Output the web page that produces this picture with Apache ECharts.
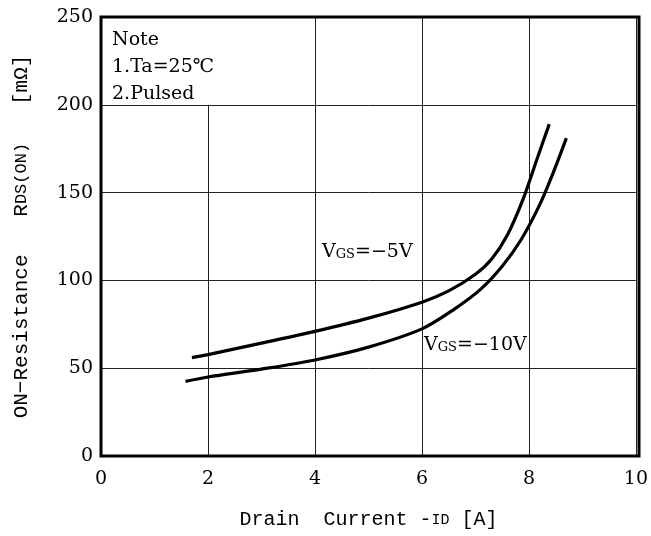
<!DOCTYPE html>
<html>
<head>
<meta charset="utf-8">
<script src="https://cdn.jsdelivr.net/npm/echarts@6/dist/echarts.min.js"></script>
<style>
  html, body { margin: 0; padding: 0; background: #fff; }
  #rdsChart { width: 651px; height: 536px; }
</style>
</head>
<body>
<div id="rdsChart"></div>
<script>
// -ID [A] vs RDS(ON) [mOhm]
var vgs5 = [[1.7, 56], [2, 57.7], [3, 64.3], [4, 71], [5, 78.5], [6, 87.6], [6.5, 94], [7, 103.5], [7.3, 112], [7.6, 126], [7.9, 147], [8.15, 169], [8.38, 189]];
var vgs10 = [[1.58, 42.5], [2, 45], [3, 49.5], [4, 54.7], [5, 62], [6, 72.4], [6.6, 83.5], [7.1, 95], [7.5, 108], [7.85, 123], [8.2, 143], [8.45, 161], [8.7, 181]];
var noteLines = ['Note', '1.Ta=25℃', '2.Pulsed'];

var font = 'DejaVu Serif';
var mono = 'Liberation Mono';

var myChart = echarts.init(document.getElementById('rdsChart'));
const option = {
    animation: false,
    grid: {
        left: 101, right: 12, top: 17, bottom: 80,
        show: false
    },
    xAxis: {
        type: 'value', min: 0, max: 10, interval: 2,
        name: 'Drain  Current -{s|ID} [A]',
        nameLocation: 'middle', nameGap: 54,
        nameTextStyle: {
            fontFamily: mono, fontSize: 20, color: '#000',
            rich: { s: { fontFamily: mono, fontSize: 15, color: '#000' } }
        },
        axisLine: { show: false },
        axisTick: { show: false },
        axisLabel: { fontFamily: font, fontSize: 19, color: '#000', margin: 14 },
        splitLine: { lineStyle: { color: '#222', width: 1 } }
    },
    yAxis: {
        type: 'value', min: 0, max: 250, interval: 50,
        name: 'ON−Resistance   R{s|DS(ON)}   [mΩ]',
        nameLocation: 'middle', nameGap: 69,
        nameTextStyle: {
            fontFamily: mono, fontSize: 21, color: '#000',
            rich: { s: { fontFamily: mono, fontSize: 17, color: '#000' } }
        },
        axisLine: { show: false },
        axisTick: { show: false },
        axisLabel: { fontFamily: font, fontSize: 19, color: '#000', margin: 8 },
        splitLine: { lineStyle: { color: '#222', width: 1 } }
    },
    series: [
        {
            type: 'line', data: vgs5, smooth: 0.3, symbol: 'none',
            lineStyle: { color: '#000', width: 3.2 },
            markArea: {
                silent: true,
                itemStyle: { color: '#fff' },
                data: [[{ coord: [0, 200] }, { coord: [2.8, 250] }]]
            }
        },
        {
            type: 'line', data: vgs10, smooth: 0.3, symbol: 'none',
            lineStyle: { color: '#000', width: 3.2 }
        }
    ],
    graphic: [
        {
            type: 'rect', z: 100, silent: true,
            shape: { x: 101, y: 17, width: 538, height: 439 },
            style: { fill: null, stroke: '#000', lineWidth: 3 }
        },
        {
            type: 'text', left: 112, top: 27, z: 100,
            style: { text: noteLines.join('\n'), fontFamily: font, fontSize: 19, lineHeight: 27, fill: '#000' }
        },
        {
            type: 'text', left: 322, top: 243, z: 100,
            style: {
                text: 'V{s|GS}=−5V', fontFamily: font, fontSize: 19, fill: '#000',
                rich: { s: { fontFamily: font, fontSize: 13, fill: '#000', padding: [4, 0, 0, 0] } }
            }
        },
        {
            type: 'text', left: 424, top: 336, z: 100,
            style: {
                text: 'V{s|GS}=−10V', fontFamily: font, fontSize: 19, fill: '#000',
                rich: { s: { fontFamily: font, fontSize: 13, fill: '#000', padding: [4, 0, 0, 0] } }
            }
        }
    ]
};
myChart.setOption(option);
</script>
</body>
</html>
